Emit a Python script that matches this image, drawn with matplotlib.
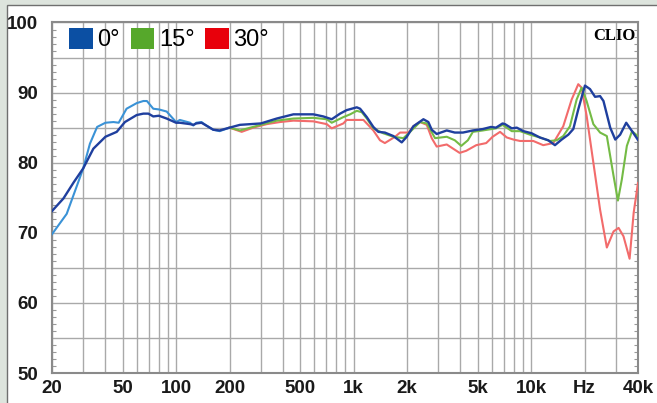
import numpy as np
import matplotlib
matplotlib.use("Agg")
import matplotlib.pyplot as plt
from matplotlib.patches import Patch, Rectangle
from matplotlib.ticker import FixedLocator, MultipleLocator

# 0 deg, full range
f_0 = [20, 23.2, 26.5, 30, 34.2, 40, 46.3, 51.5, 60, 65.4, 69.8, 74.4, 80, 88.5, 100,
       105, 120, 125, 130, 139, 148, 162, 176, 200, 229, 300, 369, 458, 593, 675, 753,
       839, 914, 1042, 1088, 1187, 1292, 1378, 1500, 1675, 1867, 1993, 2172, 2473, 2637,
       2755, 2938, 3347, 3716, 4130, 4697, 5347, 5942, 6340, 6905, 7130, 7780, 8300, 9050,
       10060, 11200, 12480, 13620, 14860, 16200, 17280, 18430, 20100, 21460, 22910, 24460,
       25560, 27890, 29780, 31730, 34330, 37020, 39880]
db_0 = [73.1, 74.9, 77.2, 79.2, 82.0, 83.7, 84.4, 85.8, 86.8, 87.0, 87.0, 86.6, 86.7, 86.3, 85.7,
        85.7, 85.5, 85.4, 85.6, 85.7, 85.3, 84.7, 84.6, 85.0, 85.4, 85.6, 86.3, 86.9, 86.9, 86.6, 86.2,
        87.0, 87.5, 87.9, 87.7, 86.5, 85.1, 84.4, 84.3, 83.8, 82.9, 83.7, 85.2, 86.2, 85.8,
        84.7, 84.1, 84.6, 84.3, 84.3, 84.6, 84.8, 85.1, 85.0, 85.6, 85.5, 84.9, 85.0, 84.5,
        84.2, 83.6, 83.2, 82.5, 83.3, 84.0, 84.8, 87.6, 91.0, 90.5, 89.4, 89.5,
        88.8, 85.0, 83.3, 84.0, 85.7, 84.5, 83.3]

# light blue low-frequency curve
f_lf = [20, 24.2, 30, 32.7, 35.9, 40, 44.4, 47.5, 52.6, 60, 65.4, 68.5, 74.4, 80, 88.5,
        100, 105, 120, 125, 130, 139, 148, 162, 176, 195]
db_lf = [69.8, 72.7, 79.2, 82.7, 85.1, 85.7, 85.8, 85.7, 87.7, 88.5, 88.8, 88.8, 87.7, 87.6, 87.3,
         85.8, 86.1, 85.7, 85.3, 85.7, 85.8, 85.3, 84.7, 84.5, 84.9]

# 15 deg
f_15 = [200, 229, 300, 369, 458, 593, 706, 753, 875, 956, 1042, 1112, 1187, 1292, 1469, 1675,
        1908, 2081, 2368, 2583, 2876, 3347, 3716, 4042, 4403, 4697, 5347, 6340, 6905, 7290,
        7780, 8660, 9850, 11200, 12760, 13920, 15170, 16550, 18040, 19250, 20540, 22420,
        24460, 26700, 29140, 30820, 32430, 34620, 37020, 39880]
db_15 = [85.0, 84.6, 85.4, 86.0, 86.3, 86.4, 86.2, 85.7, 86.5, 86.9, 87.4, 87.2, 86.3, 84.9, 84.2, 83.7,
         83.5, 84.4, 85.8, 85.6, 83.5, 83.7, 83.2, 82.4, 83.2, 84.4, 84.6, 84.9, 85.4, 85.0,
         84.5, 84.5, 84.0, 83.6, 83.1, 83.2, 83.8, 85.2, 89.0, 90.7, 88.8, 85.5,
         84.3, 83.8, 78.1, 74.6, 77.6, 82.4, 84.5, 83.8]

# 30 deg
f_30 = [200, 234, 272, 324, 385, 458, 593, 706, 753, 875, 914, 1136, 1292, 1408, 1500, 1712,
        1827, 2036, 2172, 2368, 2583, 2755, 2938, 3347, 3637, 3956, 4310, 4907, 5584, 6070,
        6683, 7290, 7950, 8660, 10280, 11700, 13330, 15170, 16910, 18430, 19250, 20540,
        22420, 24460, 26700, 29140, 31100, 33140, 35870, 37830, 40000]
db_30 = [85.0, 84.4, 85.0, 85.5, 85.8, 86.0, 85.9, 85.5, 84.9, 85.6, 86.1, 86.1, 84.6, 83.2, 82.8, 83.7,
         84.3, 84.3, 85.2, 85.8, 85.4, 83.5, 82.3, 82.6, 82.0, 81.4, 81.7, 82.5, 82.8, 83.7,
         84.4, 83.6, 83.3, 83.1, 83.1, 82.5, 82.8, 85.2, 89.0, 91.2, 90.7, 86.7,
         80.0, 73.3, 67.9, 70.2, 70.7, 69.5, 66.3, 72.9, 77.1]

xtick_vals = [20, 50, 100, 200, 500, 1000, 2000, 5000, 10000, 20000, 40000]
xtick_labels = ["20", "50", "100", "200", "500", "1k", "2k", "5k", "10k", "Hz", "40k"]
legend_labels = ["0°", "15°", "30°"]

sans = ["Liberation Sans", "DejaVu Sans"]

fig = plt.figure(figsize=(6.57, 4.03), dpi=100)
fig.patch.set_facecolor("#dde4dd")
fig.add_artist(Rectangle((7 / 657, -0.01), 1.0, 1 - 5 / 403 + 0.01, transform=fig.transFigure,
                         facecolor="white", edgecolor="#6f6f6f", lw=1.0, zorder=0))

ax = fig.add_axes([52 / 657, 1 - 373 / 403, 586 / 657, 350.5 / 403])
ax.set_xscale("log")
ax.set_xlim(20, 40000)
ax.set_ylim(50, 100)

ax.plot(f_lf, db_lf, color="#3a92d6", lw=1.5, zorder=3)
ax.plot(f_30, db_30, color="#f26b6b", lw=1.5, zorder=4)
ax.plot(f_15, db_15, color="#74bb45", lw=1.5, zorder=5)
ax.plot(f_0, db_0, color="#1f3f9e", lw=1.7, zorder=6)

minor_x = [30, 40, 60, 70, 80, 90, 300, 400, 600, 700, 800, 900,
           3000, 4000, 6000, 7000, 8000, 9000, 30000]
ax.xaxis.set_major_locator(FixedLocator(xtick_vals))
ax.xaxis.set_minor_locator(FixedLocator(minor_x))
ax.set_xticklabels(xtick_labels)
ax.set_yticks(np.arange(50, 101, 5))
ax.set_yticklabels([str(v) if v % 10 == 0 else "" for v in range(50, 101, 5)])
ax.yaxis.set_minor_locator(MultipleLocator(1))

ax.grid(which="major", color="#a9a9a9", lw=1.0, zorder=1)
ax.grid(which="minor", axis="x", color="#a9a9a9", lw=1.0, zorder=1)
ax.tick_params(axis="x", which="both", length=0, pad=5)
ax.tick_params(axis="y", which="major", length=0, pad=10)
ax.tick_params(axis="y", which="minor", direction="in", length=3, width=0.8,
               color="#999999", left=True, right=True)
for lab in ax.get_xticklabels() + ax.get_yticklabels():
    lab.set_family(sans)
    lab.set_fontweight("bold")
    lab.set_fontsize(13.5)
    lab.set_color("#1a1a1a")
for s in ax.spines.values():
    s.set_color("#8a8a8a")
    s.set_linewidth(1.5)

handles = [Patch(facecolor=c, edgecolor="none") for c in ["#0b4fa3", "#56a82b", "#e8000b"]]
leg = ax.legend(handles, legend_labels, loc="upper left", bbox_to_anchor=(0.017, 1.005),
                ncol=3, frameon=False, handlelength=1.0, handleheight=1.0,
                handletextpad=0.2, columnspacing=0.45, borderaxespad=0.0, borderpad=0.3,
                prop={"family": sans, "size": 17})

ax.text(0.996, 0.985, "CLIO", transform=ax.transAxes, ha="right", va="top",
        family=["Liberation Serif", "DejaVu Serif"], fontweight="bold", fontsize=12)

fig.savefig("out.png", dpi=100, facecolor=fig.get_facecolor())
